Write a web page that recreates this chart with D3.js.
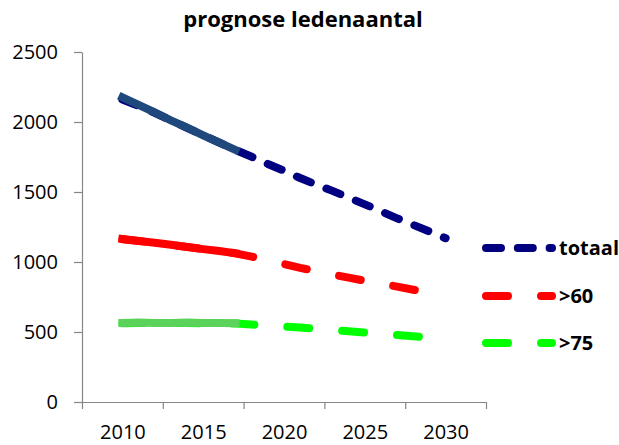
<!DOCTYPE html>
<html lang="en">

<head>
    <meta charset="utf-8">
    <title>prognose ledenaantal</title>
    <script src="https://d3js.org/d3.v7.min.js"></script>
    <style>
        body { margin: 0; background: #fff; }
        text { font-family: "Open Sans", sans-serif; fill: #000; }
    </style>
</head>

<body>
    <script>
        // prognose per jaar (gestippelde lijnen)
        const years = [2010, 2011, 2012, 2013, 2014, 2015, 2016, 2017, 2018, 2019, 2020,
            2021, 2022, 2023, 2024, 2025, 2026, 2027, 2028, 2029, 2030];
        const totaal = [2160, 2115, 2066, 2012, 1958, 1905, 1852, 1800, 1752, 1700, 1652,
            1600, 1552, 1508, 1460, 1412, 1362, 1312, 1265, 1218, 1170];
        const boven60 = [1162, 1150, 1137, 1122, 1107, 1092, 1077, 1062, 1038, 1012, 985,
            958, 934, 910, 888, 866, 846, 824, 802, 780, 758];
        const boven75 = [563, 564, 564, 565, 564, 563, 562, 560, 553, 546, 539,
            532, 523, 514, 505, 496, 487, 478, 469, 460, 451];

        // gemeten deel (doorgetrokken lijnen)
        const yearsActual = [2010, 2011, 2012, 2013, 2014, 2015, 2016, 2017];
        const totaalActual = [2176, 2122, 2068, 2012, 1960, 1905, 1852, 1800];
        const boven60Actual = [1165, 1151, 1138, 1123, 1108, 1092, 1078, 1062];
        const boven75Actual = [565, 567, 565, 565, 567, 565, 564, 563];

        const seriesNames = ["totaal", ">60", ">75"];
        const yTicks = [0, 500, 1000, 1500, 2000, 2500];
        const xLabels = [2010, 2015, 2020, 2025, 2030];
        const xBoundaries = [2007.5, 2012.5, 2017.5, 2022.5, 2027.5, 2032.5];

        const width = 619;
        const height = 445;
        const margin = { top: 52, right: 133, bottom: 43, left: 82 };

        const svg = d3.select("body")
            .append("svg")
            .attr("width", width)
            .attr("height", height);

        const x = d3.scaleLinear()
            .domain([2007.5, 2032.5])
            .range([margin.left, width - margin.right]);

        const y = d3.scaleLinear()
            .domain([0, 2500])
            .range([height - margin.bottom, margin.top]);

        // title
        svg.append("text")
            .attr("x", 303)
            .attr("y", 27)
            .attr("text-anchor", "middle")
            .attr("font-size", 22)
            .attr("font-weight", "bold")
            .text("prognose ledenaantal");

        // y axis
        const yAxis = svg.append("g")
            .attr("transform", "translate(" + margin.left + ",0)")
            .call(d3.axisLeft(y).tickValues(yTicks).tickSize(8).tickSizeOuter(0)
                .tickPadding(16).tickFormat(d3.format("d")));

        // x axis: tick marks on the boundaries, labels in between
        const xAxis = svg.append("g")
            .attr("transform", "translate(0," + (height - margin.bottom) + ")")
            .call(d3.axisBottom(x).tickValues(xBoundaries).tickSize(7).tickSizeOuter(0).tickFormat(""));

        const xLabelAxis = svg.append("g")
            .attr("transform", "translate(0," + (height - margin.bottom) + ")")
            .call(d3.axisBottom(x).tickValues(xLabels).tickSize(0).tickPadding(23).tickFormat(d3.format("d")));
        xLabelAxis.select(".domain").remove();

        [yAxis, xAxis, xLabelAxis].forEach(function (g) {
            g.selectAll("path, line").attr("stroke", "#868686").attr("stroke-width", 1.2);
            g.selectAll("text").attr("font-size", 20).attr("font-family", "'Open Sans', sans-serif");
        });

        const line = d3.line()
            .x(d => x(d.year))
            .y(d => y(d.value));

        const prognoses = [
            { name: seriesNames[0], values: totaal, color: "#000080", dash: "15,16.8" },
            { name: seriesNames[1], values: boven60, color: "#ff0000", dash: "22,33" },
            { name: seriesNames[2], values: boven75, color: "#00ff00", dash: "22,33" }
        ];

        const actuals = [
            { values: totaalActual, color: "#1f497d" },
            { values: boven60Actual, color: "#ff0000" },
            { values: boven75Actual, color: "#5bd35b" }
        ];

        // dashed prognosis lines
        svg.selectAll(".prognose")
            .data(prognoses)
            .enter()
            .append("path")
            .attr("class", "prognose")
            .attr("d", s => line(years.map((yr, i) => ({ year: yr, value: s.values[i] }))))
            .attr("fill", "none")
            .attr("stroke", s => s.color)
            .attr("stroke-width", 8)
            .attr("stroke-linecap", "round")
            .attr("stroke-linejoin", "round")
            .attr("stroke-dasharray", s => s.dash);

        // solid lines on top for the known years
        svg.selectAll(".actual")
            .data(actuals)
            .enter()
            .append("path")
            .attr("class", "actual")
            .attr("d", s => line(yearsActual.map((yr, i) => ({ year: yr, value: s.values[i] }))))
            .attr("fill", "none")
            .attr("stroke", s => s.color)
            .attr("stroke-width", 8)
            .attr("stroke-linecap", "square")
            .attr("stroke-linejoin", "round");

        // legend
        const legendY = [248, 296, 343];
        const legend = svg.selectAll(".legend")
            .data(prognoses)
            .enter()
            .append("g")
            .attr("class", "legend")
            .attr("transform", (d, i) => "translate(486," + legendY[i] + ")");

        legend.append("path")
            .attr("d", "M0,0H66")
            .attr("stroke", d => d.color)
            .attr("stroke-width", 8)
            .attr("stroke-linecap", "round")
            .attr("stroke-dasharray", d => d.dash);

        legend.append("text")
            .attr("x", 73)
            .attr("dy", "0.36em")
            .attr("font-size", 20)
            .attr("font-weight", "bold")
            .text(d => d.name);
    </script>
</body>

</html>
